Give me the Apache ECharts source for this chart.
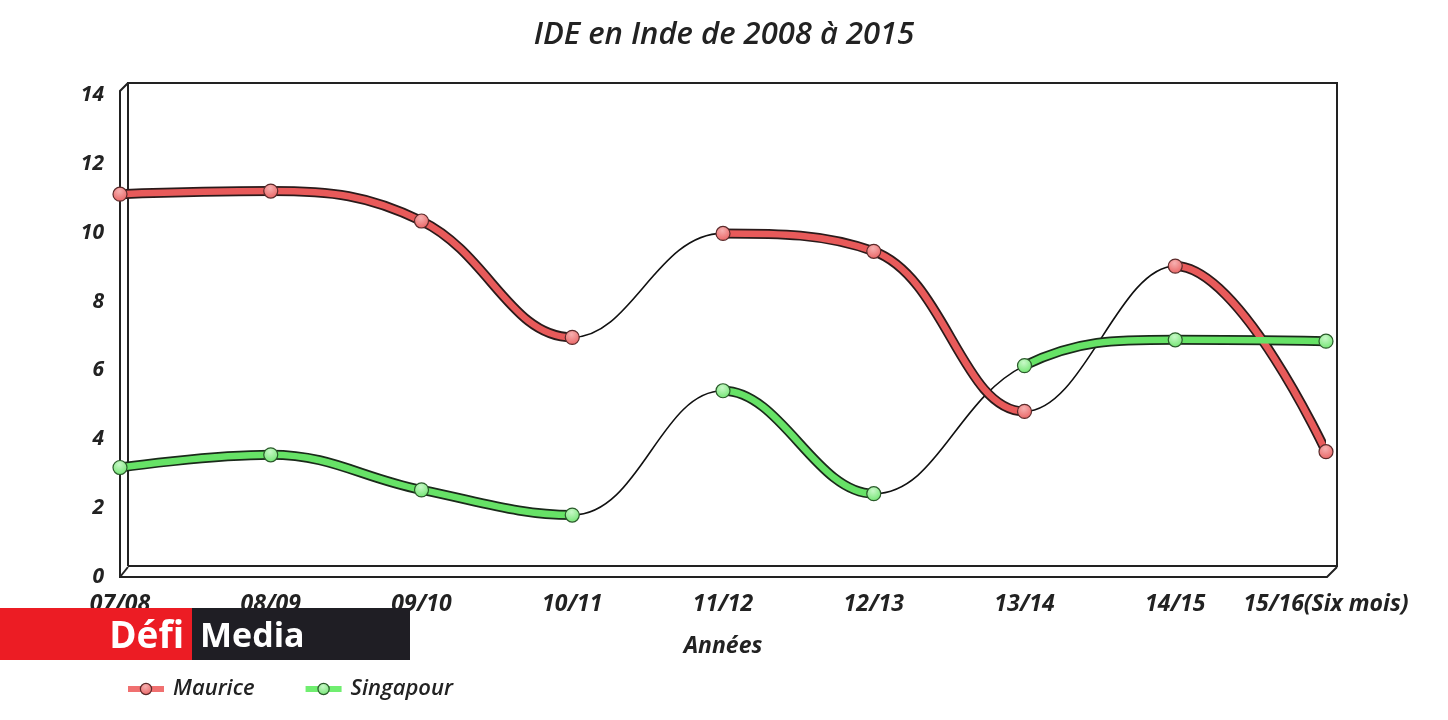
<!DOCTYPE html>
<html>
<head>
<meta charset="utf-8">
<script src="https://cdn.jsdelivr.net/npm/echarts@6/dist/echarts.min.js"></script>
<style>
html,body{margin:0;padding:0;background:#fff;}
#chart{width:1448px;height:720px;}
</style>
</head>
<body>
<div id="chart"></div>
<script>
const categories = ['07/08','08/09','09/10','10/11','11/12','12/13','13/14','14/15','15/16(Six mois)'];
const maurice   = [11.12, 11.21, 10.34, 6.96, 9.98, 9.46, 4.81, 9.03, 3.64];
const singapour = [3.18, 3.55, 2.53, 1.80, 5.41, 2.42, 6.14, 6.89, 6.85];
const yTicks = [0, 2, 4, 6, 8, 10, 12, 14];

// which segments are drawn as thick coloured tubes (true) or thin black lines (false)
const mauriceThick   = [true, true, true, false, true, true, false, true];
const singapourThick = [true, true, true, false, true, false, true, true];

const RED = '#e85a5a', GREEN = '#66e266';
const SMOOTH = 0.4;
const FONT = '"Open Sans", "Noto Sans", sans-serif';
const labelStyle = {fontFamily: FONT, fontStyle: 'italic', fontWeight: 'bold', fontSize: 21, color: '#222'};
const xLabelStyle = Object.assign({}, labelStyle, {fontSize: 23});

function pieces(flags, color) {
  return flags.map((t, i) => ({gte: i, lte: i + 1, color: t ? color : 'rgba(0,0,0,0)'}));
}
function marker(c, light) {
  return {
    type: 'radial', x: 0.45, y: 0.3, r: 0.8,
    colorStops: [{offset: 0, color: light}, {offset: 1, color: c}]
  };
}
const mItem = {color: marker(RED, '#f6b0b0'), borderColor: '#5a2a2a', borderWidth: 1.2};
const sItem = {color: marker(GREEN, '#c8f8c8'), borderColor: '#2a5a2a', borderWidth: 1.2};

const chart = echarts.init(document.getElementById('chart'));
const base = {type: 'line', smooth: SMOOTH, showSymbol: false, silent: true};
chart.setOption({
  animation: false,
  backgroundColor: '#fff',
  title: {
    text: 'IDE en Inde de 2008 à 2015', left: 'center', top: 15,
    textStyle: {fontFamily: FONT, fontStyle: 'italic', fontWeight: 600, fontSize: 31, color: '#222'}
  },
  legend: {
    left: 120, top: 673, itemWidth: 36, itemHeight: 14, itemGap: 48,
    textStyle: Object.assign({}, labelStyle, {fontSize: 22, fontWeight: 600, padding: [0, 0, 0, 4]}),
    data: [
      {name: 'Maurice', itemStyle: mItem, lineStyle: {color: '#f07070', width: 6, opacity: 1}},
      {name: 'Singapour', itemStyle: sItem, lineStyle: {color: '#70ee70', width: 6, opacity: 1}}
    ]
  },
  grid: {left: 120, right: 122, top: 95, bottom: 143},
  xAxis: {
    type: 'category', data: categories, boundaryGap: false,
    axisLine: {show: false}, axisTick: {show: false},
    axisLabel: Object.assign({}, xLabelStyle, {margin: 16, interval: 0}),
    name: 'Années', nameLocation: 'middle', nameGap: 58,
    nameTextStyle: xLabelStyle
  },
  yAxis: {
    type: 'value', min: yTicks[0], max: yTicks[yTicks.length - 1], interval: 2,
    axisLine: {show: false}, axisTick: {show: false}, splitLine: {show: false},
    axisLabel: Object.assign({}, labelStyle, {margin: 16})
  },
  visualMap: [
    {show: false, type: 'piecewise', dimension: 0, seriesIndex: 1, pieces: pieces(mauriceThick, '#2a1a1a')},
    {show: false, type: 'piecewise', dimension: 0, seriesIndex: 2, pieces: pieces(mauriceThick, RED)},
    {show: false, type: 'piecewise', dimension: 0, seriesIndex: 5, pieces: pieces(singapourThick, '#1a2a1a')},
    {show: false, type: 'piecewise', dimension: 0, seriesIndex: 6, pieces: pieces(singapourThick, GREEN)}
  ],
  series: [
    Object.assign({}, base, {name: 'm-thin', data: maurice, z: 2, lineStyle: {color: '#111', width: 1.6}}),
    Object.assign({}, base, {name: 'm-outline', data: maurice, z: 3, lineStyle: {width: 10}}),
    Object.assign({}, base, {name: 'm-tube', data: maurice, z: 4, lineStyle: {width: 6.5}}),
    {
      type: 'line', name: 'Maurice', data: maurice, smooth: SMOOTH, z: 5,
      symbol: 'circle', symbolSize: 14, showSymbol: true,
      lineStyle: {width: 0, color: RED}, itemStyle: mItem
    },
    Object.assign({}, base, {name: 's-thin', data: singapour, z: 2, lineStyle: {color: '#111', width: 1.6}}),
    Object.assign({}, base, {name: 's-outline', data: singapour, z: 3, lineStyle: {width: 10}}),
    Object.assign({}, base, {name: 's-tube', data: singapour, z: 4, lineStyle: {width: 6.5}}),
    {
      type: 'line', name: 'Singapour', data: singapour, smooth: SMOOTH, z: 5,
      symbol: 'circle', symbolSize: 14, showSymbol: true,
      lineStyle: {width: 0, color: GREEN}, itemStyle: sItem
    }
  ],
  graphic: [
    // pseudo-3D frame
    {type: 'polyline', z: 1, silent: true, shape: {points: [[128, 566], [128, 83], [1337, 83], [1337, 566], [128, 566]]},
     style: {stroke: '#222', lineWidth: 2, fill: null}},
    {type: 'polyline', z: 1, silent: true, shape: {points: [[128, 83], [120, 91], [120, 577], [1327, 577], [1337, 567]]},
     style: {stroke: '#222', lineWidth: 2, fill: null}},
    {type: 'line', z: 1, silent: true, shape: {x1: 120, y1: 577, x2: 128, y2: 567}, style: {stroke: '#222', lineWidth: 2}},
    // logo
    {type: 'rect', z: 100, silent: true, shape: {x: 0, y: 608, width: 192, height: 52}, style: {fill: '#ec1c24'}},
    {type: 'rect', z: 100, silent: true, shape: {x: 192, y: 608, width: 218, height: 52}, style: {fill: '#1f1e24'}},
    {type: 'text', z: 101, silent: true, style: {x: 184, y: 637, text: 'Défi', align: 'right', verticalAlign: 'middle',
      fill: '#fff', font: 'bold 37px "Open Sans", sans-serif'}},
    {type: 'text', z: 101, silent: true, style: {x: 200, y: 637, text: 'Media', align: 'left', verticalAlign: 'middle',
      fill: '#fff', font: 'bold 34px "Open Sans", sans-serif'}}
  ]
});
</script>
</body>
</html>
